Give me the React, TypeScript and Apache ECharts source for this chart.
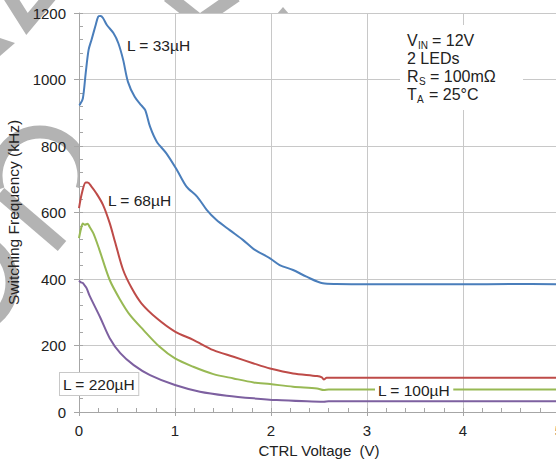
import React, { useEffect, useRef } from "react";
import * as echarts from "echarts";

const FONT = "'Liberation Sans', Arial, sans-serif";

// CTRL voltage (V) / switching frequency (kHz) for each inductor
const l33Volt = [0, 0.01, 0.04, 0.07, 0.10, 0.13, 0.17, 0.20, 0.225, 0.25, 0.29, 0.36, 0.41, 0.46, 0.51, 0.58, 0.65, 0.69, 0.74, 0.81, 0.91, 1.02, 1.12, 1.23, 1.33, 1.43, 1.57, 1.71, 1.82, 1.99, 2.09, 2.23, 2.37, 2.54, 2.68, 3.0, 3.5, 4.0, 4.5, 5.0];
const l33Freq = [923, 925, 943, 1020, 1089, 1119, 1160, 1189, 1191, 1185, 1164, 1139, 1109, 1059, 993, 948, 922, 908, 858, 813, 778, 728, 678, 648, 608, 578, 547, 517, 490, 462, 442, 427, 407, 387, 385, 384, 384, 384, 385, 384];

const l68Volt = [0, 0.03, 0.07, 0.09, 0.13, 0.18, 0.25, 0.32, 0.375, 0.46, 0.55, 0.65, 0.81, 1.0, 1.19, 1.40, 1.61, 1.82, 1.99, 2.23, 2.48, 2.53, 2.55, 2.58, 3.0, 4.0, 5.0];
const l68Freq = [613, 658, 690, 690, 678, 658, 623, 568, 512, 427, 372, 327, 282, 242, 217, 186, 166, 146, 131, 116, 108, 104, 98, 103, 103, 103, 103];

const l100Volt = [0, 0.02, 0.04, 0.06, 0.09, 0.11, 0.15, 0.21, 0.32, 0.43, 0.53, 0.67, 0.84, 1.0, 1.19, 1.40, 1.61, 1.82, 1.99, 2.23, 2.48, 2.55, 2.6, 3.0, 4.0, 5.0];
const l100Freq = [523, 550, 567, 563, 566, 557, 537, 490, 397, 337, 292, 247, 196, 161, 136, 114, 101, 89, 84, 76, 71, 66, 68, 68, 68, 68];

const l220Volt = [0, 0.02, 0.04, 0.06, 0.08, 0.11, 0.22, 0.32, 0.43, 0.57, 0.74, 1.0, 1.26, 1.54, 1.82, 2.06, 2.55, 2.6, 3.0, 4.0, 5.0];
const l220Freq = [395, 390, 388, 380, 372, 350, 285, 222, 177, 141, 111, 81, 61, 49, 41, 36, 31, 32, 32, 32, 32];

const seriesNames = ["L = 33µH", "L = 68µH", "L = 100µH", "L = 220µH"];
const seriesColors = ["#4a7ebb", "#be4b48", "#98b954", "#7d60a0"];

const xTickValues = [0, 1, 2, 3, 4, 5];
const yTickValues = [0, 200, 400, 600, 800, 1000, 1200];

const pairs = (xs: number[], ys: number[]) => xs.map((x, i) => [x, ys[i]]);

const WM = "#b3b3b3";

export default function App() {
  const ref = useRef<HTMLDivElement>(null);
  useEffect(() => {
    const chart = echarts.init(ref.current!, null, { renderer: "svg" });
    const grid = { left: 79, top: 13, width: 480, height: 399, containLabel: false, outerBoundsMode: "none" };
    const axisGrey = "#a6a6a6";
    const gridGrey = "#c8c8c8";
    const allData = [
      pairs(l33Volt, l33Freq),
      pairs(l68Volt, l68Freq),
      pairs(l100Volt, l100Freq),
      pairs(l220Volt, l220Freq),
    ];
    const wmLine = (x1: number, y1: number, x2: number, y2: number) => ({
      type: "line",
      z: -10,
      shape: { x1, y1, x2, y2 },
      style: { stroke: WM, lineWidth: 13, lineCap: "butt" },
    });
    const txt = (text: string, x: number, y: number, size: number, extra: any = {}) => ({
      type: "text",
      z: 20,
      style: {
        text,
        x,
        y,
        fontSize: size,
        fontFamily: FONT,
        fill: "#222",
        align: "left",
        verticalAlign: "middle",
        ...extra,
      },
    });
    const option: any = {
      animation: false,
      backgroundColor: "#fff",
      grid,
      xAxis: [
        {
          type: "value",
          min: xTickValues[0],
          max: xTickValues[xTickValues.length - 1],
          interval: 1,
          name: "CTRL Voltage  (V)",
          nameLocation: "middle",
          nameGap: 28,
          nameTextStyle: { fontSize: 15, fontFamily: FONT, color: "#222" },
          axisLine: { show: true, lineStyle: { color: axisGrey, width: 1 } },
          axisTick: { show: true, inside: false, length: 4, lineStyle: { color: axisGrey } },
          axisLabel: { fontSize: 15, fontFamily: FONT, color: "#222", margin: 11, formatter: (v: number) => String(v) },
          splitLine: { show: true, lineStyle: { color: gridGrey, width: 1 } },
        },
        {
          type: "value",
          min: 0,
          max: 5,
          interval: 0.2,
          position: "bottom",
          axisLine: { show: false },
          axisTick: { show: true, inside: true, length: 4, lineStyle: { color: axisGrey } },
          axisLabel: { show: false },
          splitLine: { show: false },
        },
      ],
      yAxis: [
        {
          type: "value",
          min: yTickValues[0],
          max: yTickValues[yTickValues.length - 1],
          interval: 200,
          name: "Switching Frequency (kHz)",
          nameLocation: "middle",
          nameGap: 53,
          nameTextStyle: { fontSize: 15.5, fontFamily: FONT, color: "#222" },
          axisLine: { show: true, lineStyle: { color: axisGrey, width: 1 } },
          axisTick: { show: true, inside: false, length: 5, lineStyle: { color: axisGrey } },
          axisLabel: { fontSize: 15, fontFamily: FONT, color: "#222", margin: 13, formatter: (v: number) => String(v) },
          splitLine: { show: true, lineStyle: { color: gridGrey, width: 1 } },
        },
        {
          type: "value",
          min: 0,
          max: 1200,
          interval: 40,
          position: "left",
          axisLine: { show: false },
          axisTick: { show: true, inside: true, length: 4, lineStyle: { color: axisGrey } },
          axisLabel: { show: false },
          splitLine: { show: false },
        },
      ],
      series: allData.map((d, i) => ({
        type: "line",
        name: seriesNames[i],
        data: d,
        xAxisIndex: 0,
        yAxisIndex: 0,
        showSymbol: false,
        symbol: "none",
        smooth: 0.3,
        lineStyle: { color: seriesColors[i], width: 2 },
        z: 3,
      })),
      graphic: [
        // watermark fragments (visible only outside the plot area)
        {
          type: "polyline",
          z: -10,
          shape: { points: [[8, -6], [27, 24], [52, -6]] },
          style: { stroke: WM, fill: null, lineWidth: 13, lineJoin: "miter" },
        },
        {
          type: "polygon",
          z: -10,
          shape: { points: [[0, 38], [15, 43], [0, 56]] },
          style: { fill: WM },
        },
        {
          type: "arc",
          z: -10,
          shape: { cx: 40, cy: 176, r: 44, startAngle: Math.PI * 0.9, endAngle: Math.PI * 2 + 0.3, clockwise: true },
          style: { stroke: WM, fill: null, lineWidth: 13 },
        },
        wmLine(0, 193, 62, 246),
        {
          type: "arc",
          z: -10,
          shape: { cx: -34, cy: 283, r: 46, startAngle: -1.2, endAngle: 1.2, clockwise: true },
          style: { stroke: WM, fill: null, lineWidth: 13 },
        },
        wmLine(168, -4, 196, 18),
        wmLine(236, -4, 204, 18),
        {
          type: "polygon",
          z: -10,
          shape: { points: [[277, 14], [283, 7], [289, 14]] },
          style: { fill: WM },
        },
        // plot background covering the watermark
        {
          type: "rect",
          z: -5,
          shape: { x: 79, y: 13, width: 480, height: 399 },
          style: { fill: "#fff" },
        },
        // conditions box
        {
          type: "rect",
          z: 15,
          shape: { x: 400, y: 25, width: 123, height: 85 },
          style: { fill: "#fff" },
        },
        txt("V", 407, 40, 16),
        txt("IN", 418, 45, 10),
        txt("= 12V", 432, 40, 16),
        txt("2 LEDs", 407, 58, 16),
        txt("R", 407, 76, 16),
        txt("S", 419, 81, 10),
        txt("= 100mΩ", 430, 76, 16),
        txt("T", 407, 94, 16),
        txt("A", 417, 99, 10),
        txt("= 25°C", 429, 94, 16),
        // curve labels
        txt(seriesNames[0], 127, 45, 15.5),
        txt(seriesNames[1], 108, 200, 15.5),
        txt(seriesNames[2], 375, 390, 15.5, { backgroundColor: "#fff", padding: [2, 3, 2, 3] }),
        txt(seriesNames[3], 60, 384, 15.5, {
          backgroundColor: "#fff",
          borderColor: "#c8c8c8",
          borderWidth: 1,
          padding: [3, 3, 3, 3],
        }),
      ],
    };
    chart.setOption(option);
    return () => chart.dispose();
  }, []);
  return (
    <div
      ref={ref}
      style={{ position: "fixed", left: 0, top: 0, width: 556, height: 463, background: "#fff" }}
    />
  );
}
